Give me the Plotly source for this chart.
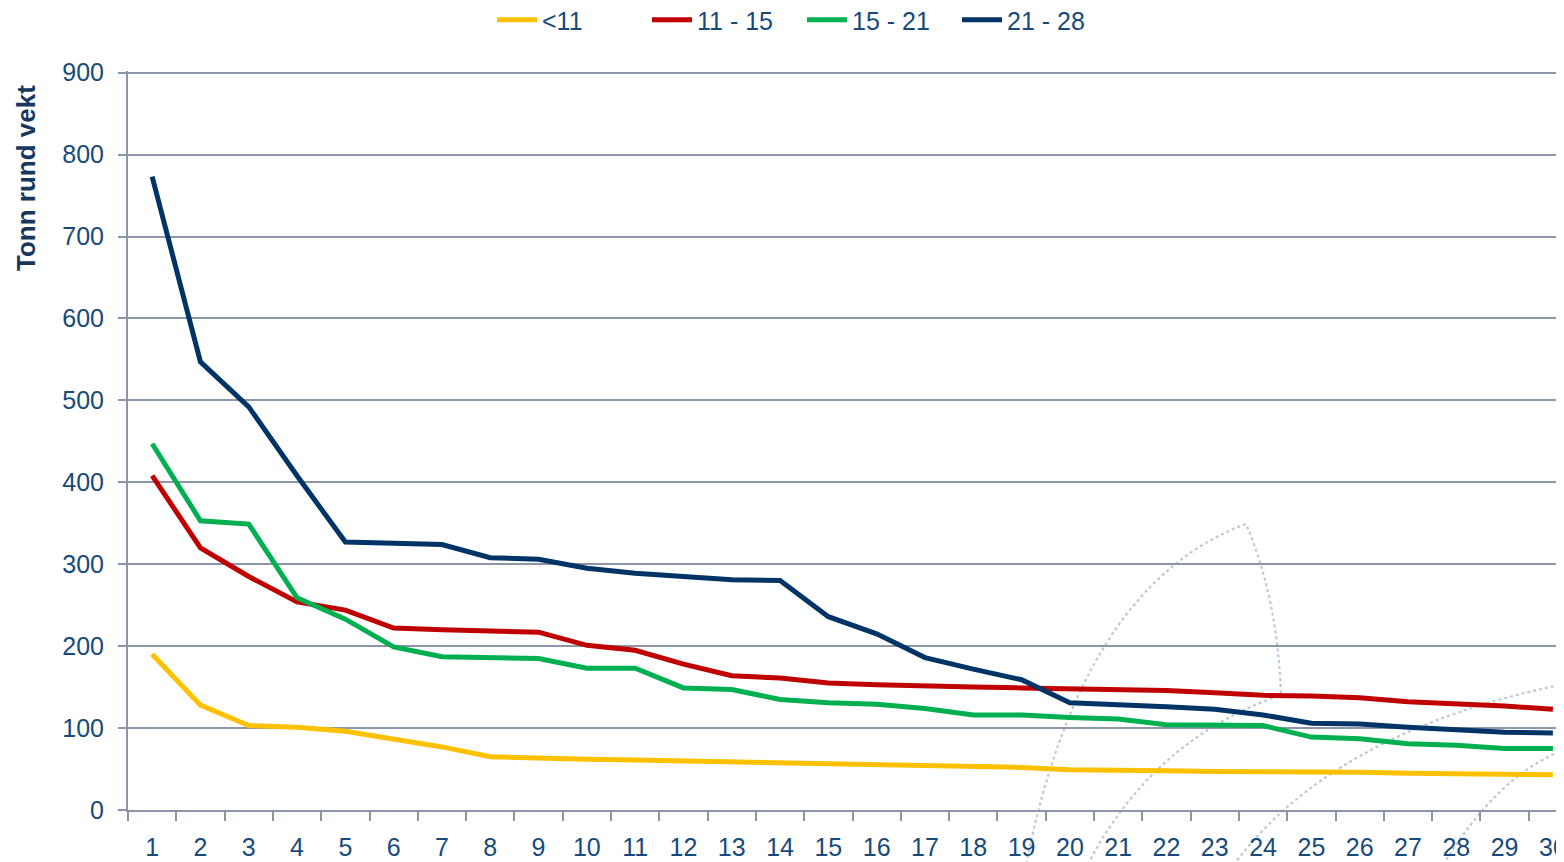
import plotly.graph_objects as go

# Rangering 1-30, tonn rund vekt per lengdegruppe (meter)
ranks = [str(i) for i in range(1, 31)]

under_11 = [190, 128, 103, 101, 96, 87, 77, 65, 63, 62, 61, 60, 59, 57, 56,
            55, 54, 53, 52, 49, 49, 48, 47, 47, 46, 46, 45, 44, 44, 43]
g11_15 = [408, 320, 285, 254, 244, 222, 220, 219, 217, 201, 195, 178, 164, 161, 155,
          153, 151, 150, 149, 148, 146, 146, 143, 140, 139, 137, 132, 130, 127, 123]
g15_21 = [447, 353, 349, 259, 233, 199, 187, 186, 185, 173, 173, 149, 147, 135, 131,
          129, 124, 116, 116, 113, 111, 104, 103, 103, 89, 87, 81, 79, 75, 75]
g21_28 = [773, 547, 492, 408, 327, 326, 324, 308, 306, 295, 289, 285, 281, 280, 236,
          215, 186, 172, 159, 131, 129, 126, 123, 116, 106, 105, 101, 98, 95, 94]

series = [
    ("<11", under_11, "#FFC000"),
    ("11 - 15", g11_15, "#C00000"),
    ("15 - 21", g15_21, "#00B050"),
    ("21 - 28", g21_28, "#003366"),
]

TEXT = "#174A7C"
GRID = "#8C95AA"
FONT = "Liberation Sans, Arial, sans-serif"

fig = go.Figure()
for name, vals, col in series:
    fig.add_trace(go.Scatter(x=ranks, y=vals, name=name, mode="lines",
                             line=dict(color=col, width=5)))

# page body has an 8px margin, so the svg is shifted; sizes compensate for it
W, H = 1556, 854
L, T, B = 120, 63, 802           # plot area in svg pixels
PW, PH = W - L, B - T


def px(x, y):
    # screen pixel -> paper coords
    return (x - 8 - L) / PW, (B - (y - 8)) / PH


def path(*pts):
    # start point, then (ctrl, end) pairs for quadratic curves
    s = "M {:.4f},{:.4f}".format(*px(*pts[0]))
    rest = pts[1:]
    for i in range(0, len(rest), 2):
        c = px(*rest[i])
        e = px(*rest[i + 1])
        s += " Q {:.4f},{:.4f} {:.4f},{:.4f}".format(c[0], c[1], e[0], e[1])
    return s


# faint dotted watermark (logo sails)
wm = [
    path((1025, 870), (1080, 585), (1246, 524), (1278, 600), (1281, 695)),
    path((1085, 870), (1150, 740), (1281, 695)),
    path((1230, 870), (1330, 730), (1570, 683)),
    path((1440, 870), (1500, 770), (1570, 748)),
]
for p in wm:
    fig.add_shape(type="path", path=p, xref="paper", yref="paper", layer="below",
                  line=dict(color="#BCCAD5", width=2.2, dash="dot"))

lx, _ = px(802, 20)
ax_, ay_ = px(26, 178)
fig.update_layout(
    width=W, height=H,
    margin=dict(l=L, r=0, t=T, b=H - B, autoexpand=False),
    paper_bgcolor="white", plot_bgcolor="white",
    font=dict(family=FONT, size=25, color=TEXT),
    showlegend=True,
    legend=dict(orientation="h", x=lx, xanchor="center",
                yref="container", y=1 - 12 / H, yanchor="middle",
                font=dict(size=25, color=TEXT), itemwidth=40,
                entrywidth=100, entrywidthmode="pixels", bgcolor="rgba(0,0,0,0)"),
    annotations=[dict(text="<b>Tonn rund vekt</b>", textangle=-90, xref="paper", yref="paper",
                      x=ax_, y=ay_, xanchor="center", yanchor="middle", showarrow=False,
                      font=dict(size=26, color="#17375E"))],
)
fig.update_xaxes(type="category", range=[-0.5, 29.23], showgrid=False, zeroline=False,
                 showline=True, linecolor=GRID, linewidth=2, automargin=False,
                 ticks="outside", tickson="boundaries", ticklen=9, tickcolor=GRID, tickwidth=2,
                 ticklabelstandoff=14, tickfont=dict(size=25, color=TEXT))
fig.update_yaxes(range=[0, 902], dtick=100, showgrid=True, gridcolor=GRID, gridwidth=1.5,
                 zeroline=False, showline=True, linecolor=GRID, linewidth=2, automargin=False,
                 ticks="outside", ticklen=8, tickcolor=GRID, tickwidth=2,
                 ticklabelstandoff=9, tickfont=dict(size=25, color=TEXT))

fig.write_html("out.html")
